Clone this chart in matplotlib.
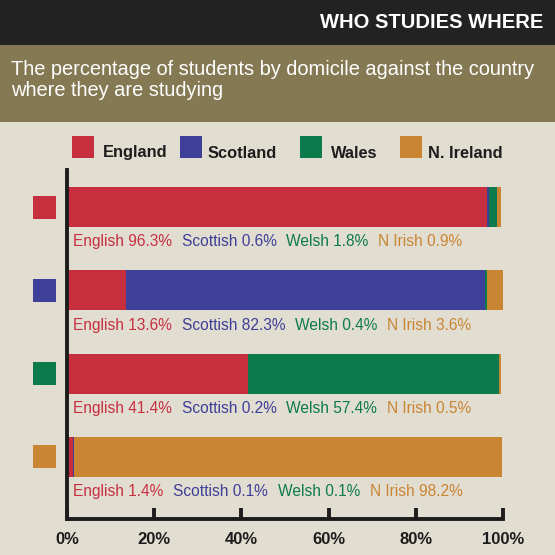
import matplotlib
matplotlib.use('Agg')
import matplotlib.pyplot as plt
from matplotlib.patches import Rectangle
from matplotlib.transforms import blended_transform_factory
import numpy as np

# ---------------- data ----------------
countries = ['England', 'Scotland', 'Wales', 'N. Ireland']
domicile_names = ['English', 'Scottish', 'Welsh', 'N Irish']
england = [96.3, 0.6, 1.8, 0.9]
scotland = [13.6, 82.3, 0.4, 3.6]
wales = [41.4, 0.2, 57.4, 0.5]
nireland = [1.4, 0.1, 0.1, 98.2]
tick_values = [0, 20, 40, 60, 80, 100]
tick_labels = ['0%', '20%', '40%', '60%', '80%', '100%']
title = 'WHO STUDIES WHERE'
subtitle = 'The percentage of students by domicile against the country\nwhere they are studying'

# ---------------- style ----------------
colors = ['#c72f3f', '#3d3f98', '#0d7a4d', '#c98532']
BG = '#e2ddd1'
DARK = '#222222'
OLIVE = '#857953'
AXC = '#1c1c1c'
FONT = ['Liberation Sans', 'DejaVu Sans']

W = H = 555
def fx(x): return x / W
def fy(y): return 1 - y / H

fig = plt.figure(figsize=(5.55, 5.55), dpi=100)
fig.patch.set_facecolor(BG)

# header bands
fig.add_artist(Rectangle((0, fy(45)), 1, 45 / H, transform=fig.transFigure,
                         color=DARK, lw=0))
fig.add_artist(Rectangle((0, fy(122)), 1, 77 / H, transform=fig.transFigure,
                         color=OLIVE, lw=0))
fig.text(fx(543), fy(22), title, ha='right', va='center', color='white',
         fontsize=14.5, fontweight='bold', family=FONT)
fig.text(fx(11), fy(80), subtitle, ha='left', va='center', color='white',
         fontsize=14.4, family=FONT, linespacing=1.08)

# legend
leg_sq_x = [72, 180, 300, 400]
leg_tx_x = [103, 208, 331, 428]
for i, c in enumerate(countries):
    fig.add_artist(Rectangle((fx(leg_sq_x[i]), fy(158)), 22 / W, 22 / H,
                             transform=fig.transFigure, color=colors[i], lw=0))
    fig.text(fx(leg_tx_x[i]), fy(157.5), c, ha='left', va='baseline',
             color=AXC, fontsize=11.8, fontweight='bold', family=FONT)

# main axes
ax = fig.add_axes([fx(67), fy(519), (503 - 67) / W, (519 - 170) / H])
ax.set_facecolor('none')
ax.set_xlim(0, 100)
row_px = 83.3
ax.set_ylim((519 - 207) / row_px, -(207 - 170) / row_px)

rows = [england, scotland, wales, nireland]
data = np.array(rows)
ypos = np.arange(len(rows))
left = np.zeros(len(rows))
for j in range(data.shape[1]):
    ax.barh(ypos, data[:, j], left=left, height=40 / row_px,
            color=colors[j], lw=0)
    left += data[:, j]

# row markers (left squares)
trans = blended_transform_factory(fig.transFigure, ax.transData)
sq_h = 23 / row_px
for i in range(len(rows)):
    ax.add_patch(Rectangle((fx(33), i - sq_h / 2), 23 / W, sq_h,
                           transform=trans, color=colors[i], lw=0,
                           clip_on=False))

# value labels
for i, row in enumerate(rows):
    prev = None
    for j, v in enumerate(row):
        s = f'{domicile_names[j]} {v:.1f}%'
        if prev is None:
            prev = ax.text(1.4, i + 0.42, s, ha='left', va='center',
                           color=colors[j], fontsize=11.2, family=FONT)
        else:
            prev = ax.annotate(s, xy=(1, 0), xycoords=prev,
                               xytext=(7, 0), textcoords='offset points',
                               ha='left', va='bottom', color=colors[j],
                               fontsize=11.2, family=FONT)

# axes styling
for sp in ['top', 'right']:
    ax.spines[sp].set_visible(False)
for sp in ['left', 'bottom']:
    ax.spines[sp].set_linewidth(2.8)
    ax.spines[sp].set_color(AXC)
ax.set_yticks([])
ax.set_xticks(tick_values)
ax.set_xticklabels(tick_labels, fontsize=12, fontweight='bold',
                   family=FONT, color=AXC)
ax.tick_params(axis='x', direction='in', length=8, width=2.8, color=AXC,
               pad=9)

fig.savefig('out.png', dpi=100, facecolor=BG)
